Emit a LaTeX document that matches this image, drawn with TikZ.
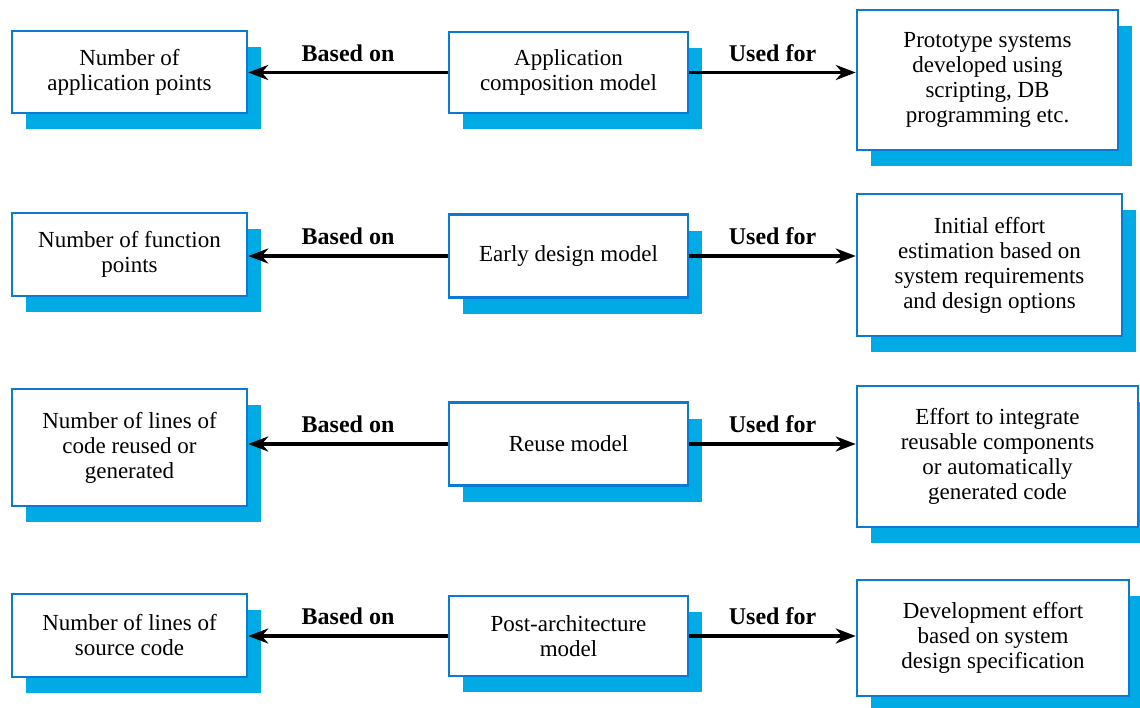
\documentclass[tikz,border=0pt]{standalone}
\usepackage{fontspec}
\setmainfont{Liberation Serif}
\usepackage{tikz}
\usetikzlibrary{arrows.meta, positioning, shadows}
\definecolor{boxblue}{RGB}{10,122,212}
\definecolor{shadowblue}{RGB}{0,170,228}
\tikzset{
  box/.style={rectangle, draw=boxblue, line width=2.5pt, fill=white, align=center, inner sep=3pt,
    font=\fontsize{23}{25}\selectfont,
    drop shadow={shadow xshift=14pt, shadow yshift=-16pt, fill=shadowblue, opacity=1}},
  line/.style={-{Stealth[length=20pt, width=15pt]}, line width=3.5pt},
  lab/.style={above=6pt, font=\bfseries\fontsize{24}{26}\selectfont}
}

\begin{document}
\begin{tikzpicture}[x=1pt, y=-1pt]
    \path[use as bounding box] (0,0) rectangle (1140,707);
    % model column
    \node[box, minimum width=239pt, minimum height=81pt] (m1) at (568.5,72.5) {Application\\composition model};
    \node[box, minimum width=239pt, minimum height=83pt] (m2) at (568.5,256) {Early design model};
    \node[box, minimum width=239pt, minimum height=83pt] (m3) at (568.5,444) {Reuse model};
    \node[box, minimum width=239pt, minimum height=80pt] (m4) at (568.5,636) {Post-architecture\\model};
    % based on
    \node[box, minimum width=235pt, minimum height=82pt] (b1) at (129.5,72) {Number of\\application points};
    \node[box, minimum width=235pt, minimum height=83pt] (b2) at (129.5,254.5) {Number of function\\points};
    \node[box, minimum width=235pt, minimum height=117pt] (b3) at (129.5,447.5) {Number of lines of\\code reused or\\generated};
    \node[box, minimum width=235pt, minimum height=83pt] (b4) at (129.5,635.5) {Number of lines of\\source code};
    % used for
    \node[box, minimum width=261pt, minimum height=140pt] (u1) at (987.5,80) {Prototype systems\\developed using\\scripting, DB\\programming etc.};
    \node[box, minimum width=265pt, minimum height=142pt] (u2) at (989.5,265) {Initial effort\\estimation based on\\system requirements\\and design options};
    \node[box, minimum width=281pt, minimum height=141pt] (u3) at (997.5,456.5) {Effort to integrate\\reusable components\\or automatically\\generated code};
    \node[box, minimum width=272pt, minimum height=116pt] (u4) at (993,638) {Development effort\\based on system\\design specification};
    \foreach \i in {1,...,4}{
      \draw[line] (m\i.west) -- node[lab]{Based on} (m\i.west -| b\i.east);
      \draw[line] (m\i.east) -- node[lab]{Used for} (m\i.east -| u\i.west);
    }
  \end{tikzpicture}
\end{document}
